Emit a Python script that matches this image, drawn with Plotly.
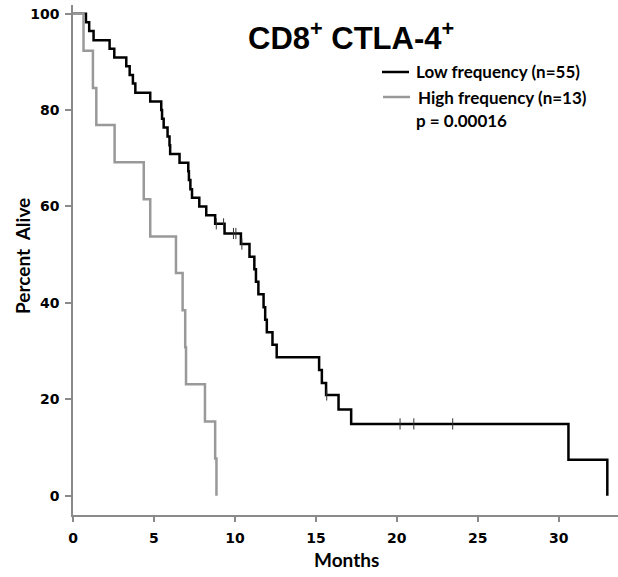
import bisect
import plotly.graph_objects as go

# Kaplan-Meier survival, CD8+ CTLA-4+ frequency groups
low_label = "Low frequency (n=55)"
low_event_months = [0.80, 1.00, 1.27, 2.26, 2.55, 3.29, 3.50, 3.70, 3.85, 4.77,
                    5.45, 5.50, 5.60, 5.84, 5.96, 6.00, 6.58, 7.12, 7.16, 7.25,
                    7.35, 7.80, 8.23, 8.78, 9.36, 10.37, 10.90, 11.20, 11.30, 11.45,
                    11.77, 11.87, 11.97, 12.32, 12.58, 15.20, 15.37, 15.63, 16.40, 17.18,
                    30.60, 33.00]
low_survival = [98.2, 96.4, 94.5, 92.7, 90.9, 89.1, 87.3, 85.5, 83.6, 81.8,
                80.0, 78.2, 76.4, 74.5, 72.7, 70.9, 69.1, 67.3, 65.5, 63.6,
                61.8, 60.0, 58.2, 56.4, 54.4, 52.2, 49.6, 47.0, 44.4, 41.8,
                39.1, 36.5, 33.9, 31.3, 28.7, 26.1, 23.4, 20.9, 17.9, 14.9,
                7.45, 0.0]
low_censor_months = [8.85, 9.30, 9.91, 10.06, 10.43, 15.67, 20.20, 21.05, 23.45]

high_label = "High frequency (n=13)"
high_event_months = [0.65, 1.23, 1.44, 2.57, 4.37, 4.77, 6.36, 6.77, 6.93, 6.98,
                     8.15, 8.78, 8.86]
high_survival = [92.3, 84.6, 76.9, 69.2, 61.5, 53.8, 46.2, 38.5, 30.8, 23.1,
                 15.4, 7.7, 0.0]

p_value_text = "p = 0.00016"
x_ticks = [0, 5, 10, 15, 20, 25, 30]
y_ticks = [0, 20, 40, 60, 80, 100]

LOW_COLOR = "#000000"
HIGH_COLOR = "#999999"
AXIS_COLOR = "#8a8a8a"


def curve(times, surv):
    return [0.0] + list(times), [100.0] + list(surv)


def level_at(times, surv, t):
    i = bisect.bisect_right(times, t)
    return 100.0 if i == 0 else surv[i - 1]


fig = go.Figure()

lx, ly = curve(low_event_months, low_survival)
fig.add_trace(go.Scatter(x=lx, y=ly, mode="lines", line_shape="hv",
                         line=dict(color=LOW_COLOR, width=2.5),
                         name=low_label, showlegend=False))
fig.add_trace(go.Scatter(
    x=low_censor_months,
    y=[level_at(low_event_months, low_survival, c) for c in low_censor_months],
    mode="markers",
    marker=dict(symbol="line-ns", size=8, line=dict(color="#333333", width=1)),
    showlegend=False, hoverinfo="skip"))

hx, hy = curve(high_event_months, high_survival)
fig.add_trace(go.Scatter(x=hx, y=hy, mode="lines", line_shape="hv",
                         line=dict(color=HIGH_COLOR, width=2.5),
                         name=high_label, showlegend=False))

# plot area geometry (px) used to place the key and labels
W, H = 618, 577
M_L, M_R, M_T, M_B = 73, 0, 5, 62
PW, PH = W - M_L - M_R, H - M_T - M_B


def px_x(px):
    return (px - M_L) / PW


def px_y(py):
    return (H - M_B - py) / PH


key_font = dict(family="Lato", size=17, color="#000000", weight="bold")
label_font = dict(family="Lato", size=19, color="#000000", weight="bold")

shapes = [
    dict(type="line", xref="paper", yref="paper",
         x0=px_x(382), x1=px_x(409), y0=px_y(72), y1=px_y(72),
         line=dict(color=LOW_COLOR, width=2.5)),
    dict(type="line", xref="paper", yref="paper",
         x0=px_x(383), x1=px_x(410), y0=px_y(97), y1=px_y(97),
         line=dict(color=HIGH_COLOR, width=2.5)),
]

annotations = [
    dict(text="CD8<sup>+</sup> CTLA-4<sup>+</sup>", xref="paper", yref="paper",
         x=px_x(351), y=px_y(36), xanchor="center", yanchor="middle",
         showarrow=False,
         font=dict(family="Liberation Sans", size=31, color="#000000", weight="bold")),
    dict(text=low_label, xref="paper", yref="paper", x=px_x(414), y=px_y(72),
         xanchor="left", yanchor="middle", showarrow=False, font=key_font),
    dict(text=high_label, xref="paper", yref="paper", x=px_x(416), y=px_y(97),
         xanchor="left", yanchor="middle", showarrow=False, font=key_font),
    dict(text=p_value_text, xref="paper", yref="paper", x=px_x(414), y=px_y(121),
         xanchor="left", yanchor="middle", showarrow=False, font=key_font),
    dict(text="Months", xref="paper", yref="paper", x=px_x(346), y=px_y(559),
         xanchor="center", yanchor="middle", showarrow=False, font=label_font),
    dict(text="Percent  Alive", xref="paper", yref="paper", x=px_x(22), y=px_y(256),
         xanchor="center", yanchor="middle", showarrow=False, textangle=-90,
         font=label_font),
]

tick_font = dict(family="DejaVu Sans", size=14, color="#000000", weight="bold")

fig.update_layout(
    width=W, height=H,
    margin=dict(l=M_L, r=M_R, t=M_T, b=M_B, pad=0),
    paper_bgcolor="white", plot_bgcolor="white",
    showlegend=False,
    shapes=shapes, annotations=annotations,
    xaxis=dict(range=[0, 33.66], tickvals=x_ticks, ticks="outside", ticklen=5,
               tickwidth=1.5, tickcolor=AXIS_COLOR, showline=True,
               linecolor=AXIS_COLOR, linewidth=1.5, showgrid=False, zeroline=False,
               tickfont=tick_font, ticklabelstandoff=4),
    yaxis=dict(range=[-4.0, 101.8], tickvals=y_ticks, ticks="outside", ticklen=6,
               tickwidth=1.5, tickcolor=AXIS_COLOR, showline=True,
               linecolor=AXIS_COLOR, linewidth=1.5, showgrid=False, zeroline=False,
               tickfont=tick_font, ticklabelstandoff=3),
)

fig.write_html("out.html")
